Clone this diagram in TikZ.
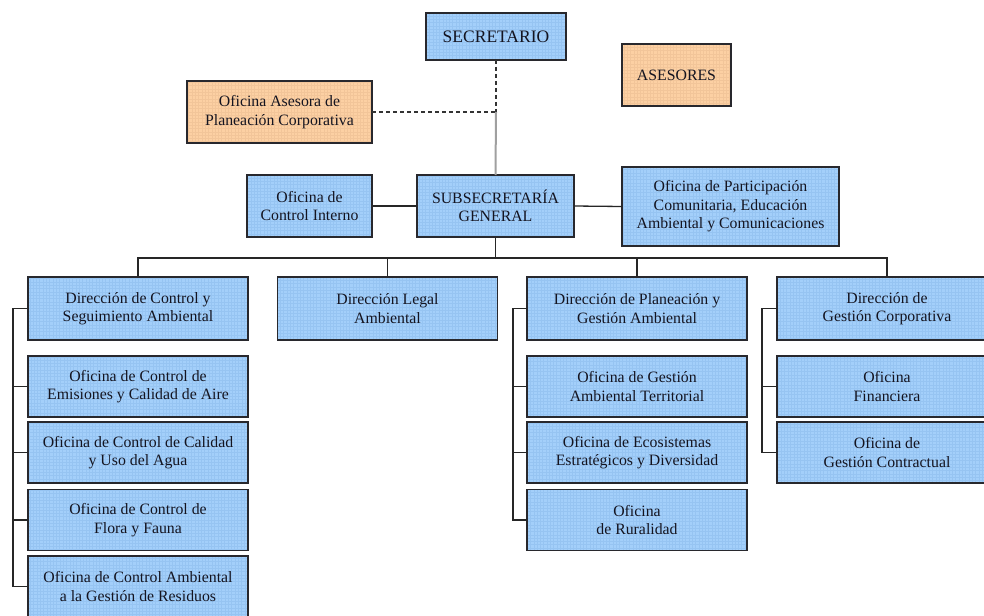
\documentclass[tikz,border=0pt]{standalone}
\usepackage{fontspec}
\setmainfont{Liberation Serif}
\definecolor{bluefill}{RGB}{163,207,250}
\definecolor{bluegrid}{RGB}{150,196,242}
\definecolor{orangefill}{RGB}{252,208,163}
\definecolor{orangegrid}{RGB}{242,197,153}
\definecolor{boxline}{RGB}{40,40,45}
\definecolor{inktext}{RGB}{20,20,32}
\definecolor{linkgray}{RGB}{160,160,160}
\begin{document}
\begin{tikzpicture}[x=1pt,y=-1pt,
  unit/.style={draw=boxline, line width=1.3pt, inner sep=0pt, outer sep=0pt,
    align=center, text=inktext, font=\fontsize{15.8}{18.5}\selectfont},
  bluebox/.style={unit, fill=bluefill,
    path picture={\draw[bluegrid, line width=0.3pt, step=3.3pt]
      (path picture bounding box.south west) grid (path picture bounding box.north east);}},
  orangebox/.style={unit, fill=orangefill,
    path picture={\draw[orangegrid, line width=0.3pt, step=3.3pt]
      (path picture bounding box.south west) grid (path picture bounding box.north east);}},
  topbox/.style={bluebox, font=\fontsize{17.5}{20}\selectfont},
  dirbox/.style={bluebox, minimum width=220, minimum height=63},
  subbox/.style={bluebox, minimum width=220, minimum height=61},
  link/.style={draw=black!85, line width=1.3pt},
  staff/.style={draw=black!80, line width=1.2pt, dashed, dash pattern=on 4pt off 3pt},
  mainline/.style={draw=linkgray, line width=2pt}]

\useasboundingbox (0,0) rectangle (984,615);
\fill[white] (0,0) rectangle (984,615);
\clip (0,0) rectangle (984,615);

% top level
\node[topbox, minimum width=140, minimum height=47] (sec) at (496,36.5) {SECRETARIO};
\node[orangebox, minimum width=109, minimum height=62] (ases) at (676.5,75) {ASESORES};
\node[orangebox, minimum width=185, minimum height=62] (opc) at (279.5,112)
  {Oficina Asesora de\\Planeación Corporativa};

% second level
\node[bluebox, minimum width=157, minimum height=62] (sub) at (495.5,206)
  {SUBSECRETARÍA\\GENERAL};
\node[bluebox, minimum width=125, minimum height=62] (oci) at (309.5,206)
  {Oficina de\\Control Interno};
\node[bluebox, minimum width=217, minimum height=79] (opar) at (730.5,206.5)
  {Oficina de Participación\\Comunitaria, Educación\\Ambiental y Comunicaciones};

% directorates
\node[dirbox] (dc) at (138,308.5) {Dirección de Control y\\Seguimiento Ambiental};
\node[dirbox] (dl) at (387.5,308.5) {Dirección Legal\\Ambiental};
\node[dirbox] (dp) at (637,308.5) {Dirección de Planeación y\\Gestión Ambiental};
\node[dirbox] (dg) at (887,308.5) {Dirección de\\Gestión Corporativa};

% offices under control
\node[subbox] (c1) at (138,386.5) {Oficina de Control de\\Emisiones y Calidad de Aire};
\node[subbox] (c2) at (138,452.5) {Oficina de Control de Calidad\\y Uso del Agua};
\node[subbox] (c3) at (138,520) {Oficina de Control de\\Flora y Fauna};
\node[subbox] (c4) at (138,586.5) {Oficina de Control Ambiental\\a la Gestión de Residuos};

% offices under planning
\node[subbox] (p1) at (637,386.5) {Oficina de Gestión\\Ambiental Territorial};
\node[subbox] (p2) at (637,452.5) {Oficina de Ecosistemas\\Estratégicos y Diversidad};
\node[subbox] (p3) at (637,520) {Oficina\\de Ruralidad};

% offices under corporate management
\node[subbox] (g1) at (887,386.5) {Oficina\\Financiera};
\node[subbox] (g2) at (887,452.5) {Oficina de\\Gestión Contractual};

% staff links
\coordinate (j) at (sec.south |- opc.east);
\draw[staff] (sec.south) -- (j);
\draw[staff] (opc.east) -- (j);
\draw[mainline] (j) -- (sub.north);

% side offices
\draw[link] (oci.east) -- (sub.west);
\draw[link] (sub.east) -- (opar.west);

% bus to directorates
\draw[link] (sub.south) -- ++(0,21) coordinate (bus);
\draw[link] (dc.north) |- (bus) -| (dg.north);
\draw[link] (dl.north) -- (dl.north |- bus);
\draw[link] (dp.north) -- (dp.north |- bus);

% brackets
\draw[link] (dc.west) -- ++(-15,0) coordinate (bc) |- (c4.west);
\foreach \n in {c1,c2,c3} \draw[link] (bc |- \n.west) -- (\n.west);
\draw[link] (dp.west) -- ++(-14,0) coordinate (bp) |- (p3.west);
\foreach \n in {p1,p2} \draw[link] (bp |- \n.west) -- (\n.west);
\draw[link] (dg.west) -- ++(-15,0) coordinate (bg) |- (g2.west);
\draw[link] (bg |- g1.west) -- (g1.west);
\end{tikzpicture}
\end{document}
